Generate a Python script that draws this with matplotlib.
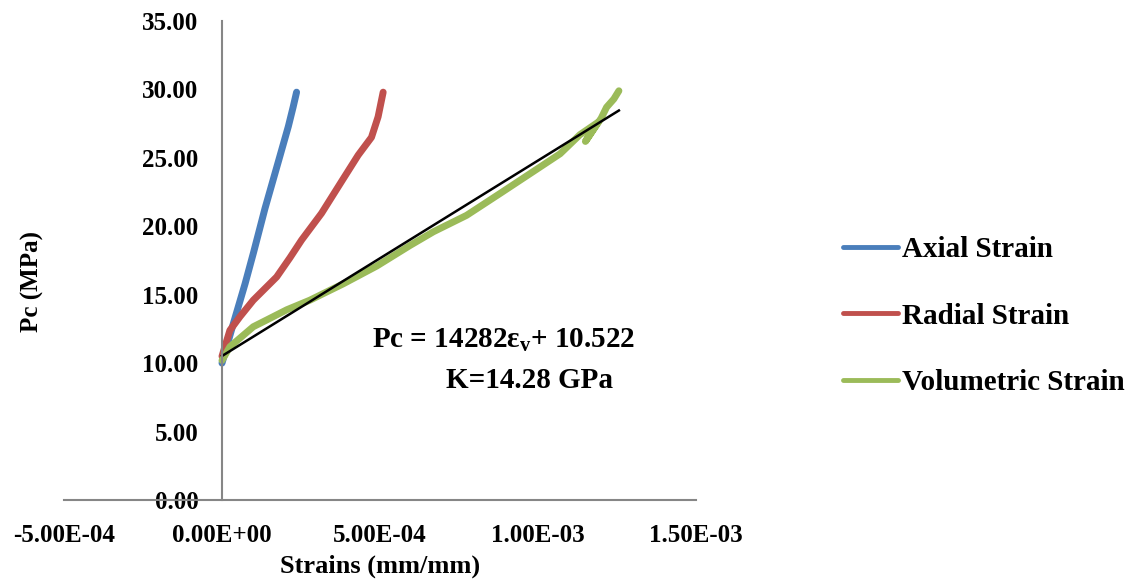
import numpy as np
import matplotlib
matplotlib.use('Agg')
import matplotlib.pyplot as plt
from matplotlib.ticker import FuncFormatter, MultipleLocator

plt.rcParams['font.family'] = ['Liberation Serif', 'DejaVu Serif']
plt.rcParams['font.weight'] = 'bold'
plt.rcParams['mathtext.fontset'] = 'custom'
plt.rcParams['mathtext.rm'] = 'Liberation Serif:bold'
plt.rcParams['mathtext.it'] = 'Liberation Serif:bold'
plt.rcParams['mathtext.bf'] = 'Liberation Serif:bold'

# strain readings (mm/mm) vs confining pressure Pc (MPa)
axial_x = [0.0, 3.6e-5, 7.3e-5, 1.0e-4, 1.36e-4, 1.78e-4, 2.10e-4, 2.25e-4, 2.36e-4]
axial_y = [10.0, 12.9, 15.8, 18.1, 21.3, 24.7, 27.3, 28.7, 29.8]

radial_x = [0.0, 2.5e-5, 5.7e-5, 9.9e-5, 1.73e-4, 2.15e-4, 2.52e-4, 3.15e-4,
            3.79e-4, 4.31e-4, 4.73e-4, 4.94e-4, 5.10e-4]
radial_y = [10.5, 12.4, 13.4, 14.6, 16.3, 17.7, 19.0, 20.95,
            23.3, 25.2, 26.5, 28.0, 29.8]

vol_x = [0.0, 2.5e-5, 9.9e-5, 1.41e-4, 2.05e-4, 2.78e-4, 3.84e-4, 4.90e-4,
         5.95e-4, 6.69e-4, 7.74e-4, 8.80e-4, 9.85e-4, 1.07e-3, 1.133e-3,
         1.19e-3, 1.15e-3, 1.20e-3, 1.217e-3, 1.24e-3, 1.256e-3]
vol_y = [10.2, 11.2, 12.66, 13.15, 13.9, 14.6, 15.8, 17.1,
         18.6, 19.6, 20.8, 22.4, 24.0, 25.3, 26.7,
         27.6, 26.2, 27.9, 28.7, 29.3, 29.9]

# linear fit reported on the chart
slope = 14282
intercept = 10.522

blue = '#4A7EBB'
red = '#C0504D'
green = '#9BBB59'
gray = '#868686'

fig = plt.figure(figsize=(11.35, 5.88), dpi=100)
ax = fig.add_axes([64 / 1135, 1 - 500 / 588, 632 / 1135, 479 / 588])

lw = 5
style = dict(linewidth=lw, solid_capstyle='round', solid_joinstyle='round')
ax.plot(axial_x, axial_y, color=blue, label='Axial Strain', **style)
ax.plot(radial_x, radial_y, color=red, label='Radial Strain', **style)
ax.plot(vol_x, vol_y, color=green, label='Volumetric Strain', **style)

fit_x = np.array([0.0, max(vol_x)])
ax.plot(fit_x, slope * fit_x + intercept, color='black', linewidth=1.8)

ax.set_xlim(-5e-4, 1.5e-3)
ax.set_ylim(0, 35)
ax.xaxis.set_major_locator(MultipleLocator(5e-4))
ax.yaxis.set_major_locator(MultipleLocator(5))
ax.xaxis.set_major_formatter(FuncFormatter(lambda v, p: f'{v:.2E}'))
ax.yaxis.set_major_formatter(FuncFormatter(lambda v, p: f'{v:.2f}'))

for s in ['top', 'right']:
    ax.spines[s].set_visible(False)
ax.spines['left'].set_position(('data', 0))
ax.spines['bottom'].set_position(('data', 0))
for s in ['left', 'bottom']:
    ax.spines[s].set_color(gray)
    ax.spines[s].set_linewidth(1.5)
ax.tick_params(axis='y', length=0, pad=17, labelsize=18)
ax.tick_params(axis='x', length=0, pad=17, labelsize=18)
for lab in ax.get_xticklabels() + ax.get_yticklabels():
    lab.set_fontweight('bold')

fig.text(32 / 1135, 1 - 282 / 588, 'Pc (MPa)', rotation=90, fontsize=18,
         fontweight='bold', ha='center', va='center')
fig.text(380 / 1135, 1 - 566 / 588, 'Strains (mm/mm)', fontsize=19,
         fontweight='bold', ha='center', va='center')

fig.text(372 / 1135, 1 - 340 / 588, r'Pc = 14282ε$_\mathbf{v}$+ 10.522',
         fontsize=21, fontweight='bold', ha='left', va='center')
fig.text(446 / 1135, 1 - 381 / 588, 'K=14.28 GPa',
         fontsize=21, fontweight='bold', ha='left', va='center')

leg = fig.legend(loc='center left', bbox_to_anchor=(828 / 1135, 1 - 316 / 588),
                 frameon=False, fontsize=21, handlelength=1.9,
                 handletextpad=0.15, labelspacing=1.35, borderpad=0)
for line in leg.get_lines():
    line.set_linewidth(3.5)
for t in leg.get_texts():
    t.set_fontweight('bold')

fig.savefig('out.png', dpi=100)
